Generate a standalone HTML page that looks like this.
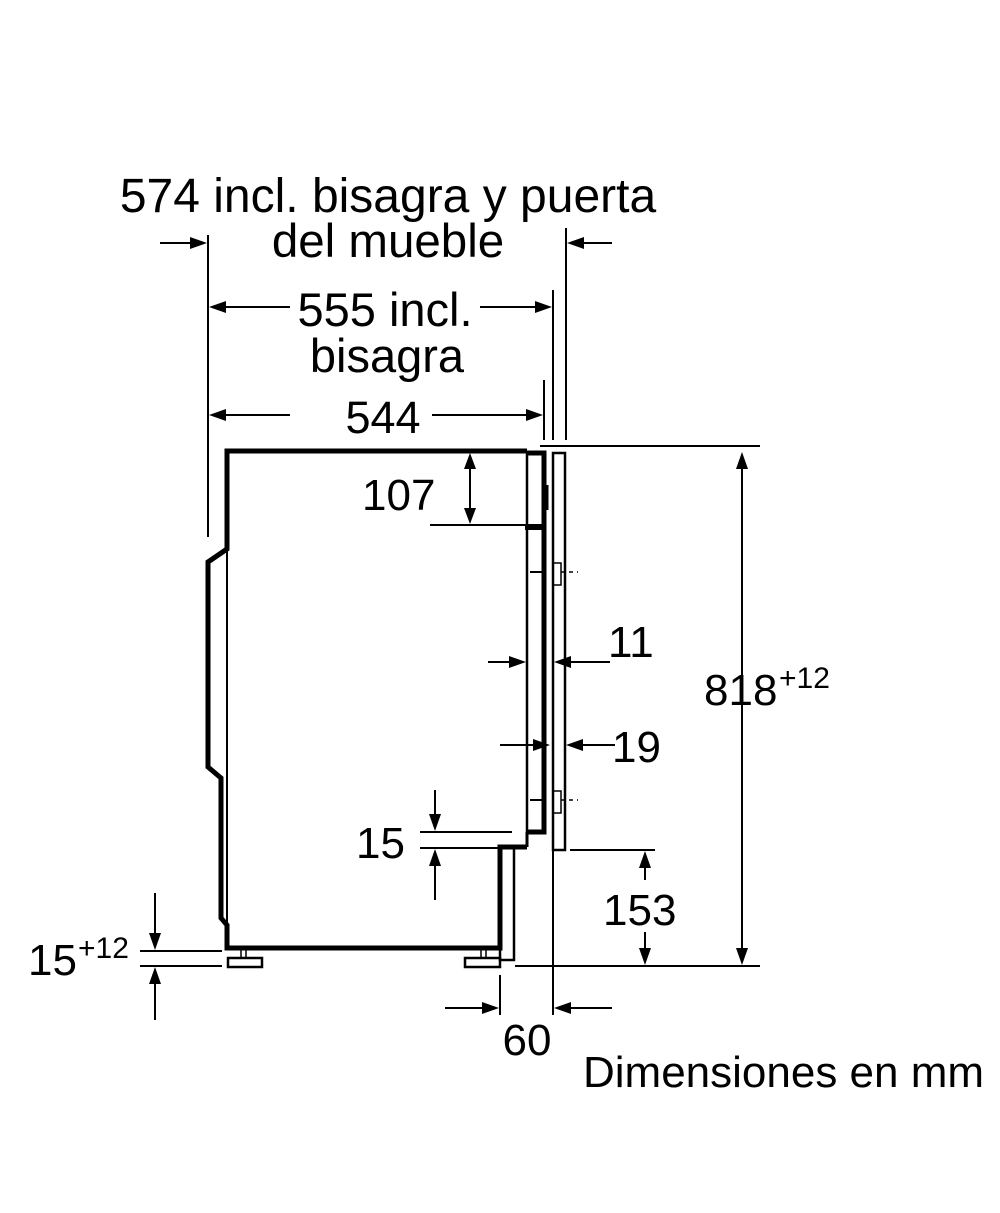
<!DOCTYPE html>
<html><head><style>
body{margin:0;background:#fff}
svg text{font-family:"Liberation Sans",sans-serif;fill:#000}
</style></head><body>
<svg width="1000" height="1208" viewBox="0 0 1000 1208" xmlns="http://www.w3.org/2000/svg">
<g stroke="#000" fill="none">
<path d="M527,451 H227 V549 L208,562 V767 L221,778 V918 L227,925 V948 H500 V847 H527" stroke-width="5"/>
<line x1="227" y1="549" x2="227" y2="948" stroke-width="2"/>
<line x1="527" y1="451" x2="527" y2="832" stroke-width="2.5"/>
<path d="M527,453 H544 V832 H527" stroke-width="5"/>
<line x1="513" y1="847" x2="527" y2="847" stroke-width="3"/>
<line x1="527" y1="832" x2="527" y2="847" stroke-width="3"/>
<rect x="500" y="848" width="14" height="112" stroke-width="2.5"/>
<line x1="546" y1="485" x2="546" y2="510" stroke-width="5"/>
<line x1="525" y1="527" x2="545" y2="527" stroke-width="6"/>
<line x1="530" y1="572" x2="545" y2="572" stroke-width="2"/>
<line x1="530" y1="800" x2="545" y2="800" stroke-width="2"/>
<rect x="553" y="453" width="12" height="397" stroke-width="2.5"/>
<rect x="553" y="563" width="8" height="22" stroke-width="1.5"/>
<rect x="553" y="791" width="8" height="22" stroke-width="1.5"/>
<line x1="561" y1="572" x2="578" y2="572" stroke-width="1.5" stroke-dasharray="4,4"/>
<line x1="561" y1="800" x2="578" y2="800" stroke-width="1.5" stroke-dasharray="4,4"/>
<rect x="228" y="958" width="34" height="9" stroke-width="2.5"/>
<line x1="241" y1="950" x2="241" y2="958" stroke-width="1.5"/><line x1="246" y1="950" x2="246" y2="958" stroke-width="1.5"/>
<rect x="465" y="958" width="35" height="9" stroke-width="2.5"/>
<line x1="481" y1="950" x2="481" y2="958" stroke-width="1.5"/><line x1="486" y1="950" x2="486" y2="958" stroke-width="1.5"/>
<g stroke-width="2">
<line x1="208" y1="235" x2="208" y2="537"/>
<line x1="566" y1="228" x2="566" y2="440"/>
<line x1="553" y1="290" x2="553" y2="440"/>
<line x1="544" y1="380" x2="544" y2="440"/>
<line x1="540" y1="446" x2="760" y2="446"/>
<line x1="515" y1="966" x2="760" y2="966"/>
<line x1="742" y1="460" x2="742" y2="955"/>
<line x1="570" y1="850" x2="655" y2="850"/>
<line x1="645" y1="865" x2="645" y2="880"/>
<line x1="645" y1="932" x2="645" y2="950"/>
<line x1="430" y1="525" x2="525" y2="525"/>
<line x1="470" y1="465" x2="470" y2="512"/>
<line x1="420" y1="832" x2="512" y2="832"/>
<line x1="420" y1="848" x2="500" y2="848"/>
<line x1="435" y1="790" x2="435" y2="818"/>
<line x1="435" y1="862" x2="435" y2="900"/>
<line x1="140" y1="951" x2="222" y2="951"/>
<line x1="140" y1="966" x2="222" y2="966"/>
<line x1="155" y1="893" x2="155" y2="935"/>
<line x1="155" y1="980" x2="155" y2="1020"/>
<line x1="500" y1="975" x2="500" y2="1015"/>
<line x1="553" y1="850" x2="553" y2="1015"/>
<line x1="445" y1="1008" x2="485" y2="1008"/>
<line x1="570" y1="1008" x2="612" y2="1008"/>
<line x1="160" y1="243" x2="192" y2="243"/>
<line x1="582" y1="243" x2="612" y2="243"/>
<line x1="222" y1="307" x2="290" y2="307"/>
<line x1="480" y1="307" x2="538" y2="307"/>
<line x1="222" y1="415" x2="290" y2="415"/>
<line x1="432" y1="415" x2="530" y2="415"/>
<line x1="488" y1="662" x2="512" y2="662"/>
<line x1="570" y1="662" x2="610" y2="662"/>
<line x1="500" y1="745" x2="535" y2="745"/>
<line x1="580" y1="745" x2="615" y2="745"/>
</g>
</g>
<g fill="#000">
<polygon points="207,243 190,237 190,249"/>
<polygon points="567,243 584,237 584,249"/>
<polygon points="209,307 226,301 226,313"/>
<polygon points="552,307 535,301 535,313"/>
<polygon points="209,415 226,409 226,421"/>
<polygon points="543,415 526,409 526,421"/>
<polygon points="742,452 736,469 748,469"/>
<polygon points="742,965 736,948 748,948"/>
<polygon points="645,851 639,868 651,868"/>
<polygon points="645,965 639,948 651,948"/>
<polygon points="470,453 464,469 476,469"/>
<polygon points="470,524 464,508 476,508"/>
<polygon points="435,831 429,814 441,814"/>
<polygon points="435,849 429,866 441,866"/>
<polygon points="155,950 149,933 161,933"/>
<polygon points="155,967 149,984 161,984"/>
<polygon points="499,1008 482,1002 482,1014"/>
<polygon points="554,1008 571,1002 571,1014"/>
<polygon points="526,662 509,656 509,668"/>
<polygon points="554,662 571,656 571,668"/>
<polygon points="550,745 533,739 533,751"/>
<polygon points="566,745 583,739 583,751"/>
</g>
<g font-size="44">
<text x="388" y="212" text-anchor="middle" font-size="48">574 incl. bisagra y puerta</text>
<text x="388" y="257" text-anchor="middle" font-size="47.5">del mueble</text>
<text x="385" y="326" text-anchor="middle" font-size="47">555 incl.</text>
<text x="387" y="372" text-anchor="middle" font-size="47">bisagra</text>
<text x="383" y="433" text-anchor="middle" font-size="45">544</text>
<text x="362" y="510">107</text>
<text x="608" y="657">11</text>
<text x="612" y="762">19</text>
<text x="356" y="858">15</text>
<text x="603" y="925">153</text>
<text x="704" y="705">818</text>
<text x="779" y="688" font-size="30">+12</text>
<text x="28" y="975">15</text>
<text x="78" y="958" font-size="30">+12</text>
<text x="527" y="1055" text-anchor="middle">60</text>
<text x="583" y="1087" font-size="44">Dimensiones en mm</text>
</g>
</svg>
</body></html>
